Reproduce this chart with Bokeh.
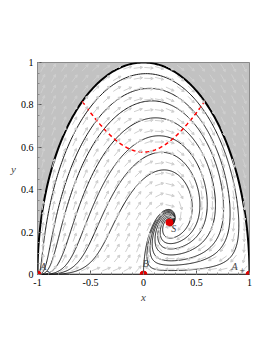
import numpy as np
from bokeh.plotting import figure
from bokeh.models import (ColumnDataSource, Arrow, VeeHead, Label,
                          FixedTicker, Range1d)
from bokeh.embed import file_html
from bokeh.resources import INLINE

# ---- model parameters (exponential potential, dust fluid) ----
lam = 5.0
gam = 1.0

# ---- seed points of drawn trajectories (crossings of y = 0.4) ----
seed_x = [-0.849, -0.755, -0.670, -0.547, -0.406, -0.264, -0.094]
seed_y = [0.4, 0.4, 0.4, 0.4, 0.4, 0.4, 0.4]

# ---- critical points ----
cp_x = [-1.0, 0.0, 1.0, 0.245]
cp_y = [0.0, 0.0, 0.0, 0.245]

# ---- ticks ----
x_ticks = [-1, -0.5, 0, 0.5, 1]
x_tick_labels = ["-1", "-0.5", "0", "0.5", "1"]
y_ticks = [0, 0.2, 0.4, 0.6, 0.8, 1]
y_tick_labels = ["0", "0.2", "0.4", "0.6", "0.8", "1"]

K = np.sqrt(1.5)


def field(x, y):
    s = 2 * x * x + gam * (1 - x * x - y * y)
    dx = -3 * x + lam * K * y * y + 1.5 * x * s
    dy = -lam * K * x * y + 1.5 * y * s
    return dx, dy


def rk4(x0, y0, dt, n):
    x = np.array(x0, float)
    y = np.array(y0, float)
    X = np.empty((n + 1, len(x)))
    Y = np.empty((n + 1, len(x)))
    X[0], Y[0] = x, y
    for i in range(n):
        a1, b1 = field(x, y)
        a2, b2 = field(x + 0.5 * dt * a1, y + 0.5 * dt * b1)
        a3, b3 = field(x + 0.5 * dt * a2, y + 0.5 * dt * b2)
        a4, b4 = field(x + dt * a3, y + dt * b3)
        x = x + dt / 6 * (a1 + 2 * a2 + 2 * a3 + a4)
        y = y + dt / 6 * (b1 + 2 * b2 + 2 * b3 + b4)
        X[i + 1], Y[i + 1] = x, y
    return X, Y


PXX, PXY = 106.0, 212.0  # px per data unit


def thin(xs, ys, step=0.7):
    ox, oy = [xs[0]], [ys[0]]
    for a, b in zip(xs[1:], ys[1:]):
        if np.hypot((a - ox[-1]) * PXX, (b - oy[-1]) * PXY) > step:
            ox.append(a)
            oy.append(b)
    ox.append(xs[-1]); oy.append(ys[-1])
    return ox, oy


Sx, Sy = cp_x[3], cp_y[3]
dt = 0.003
FX, FY = rk4(seed_x, seed_y, dt, 9000)
BX, BY = rk4(seed_x, seed_y, -dt, 2500)

traj_xs, traj_ys = [], []
for j in range(len(seed_x)):
    fx, fy = FX[:, j], FY[:, j]
    d = np.hypot(fx - Sx, fy - Sy)
    idx = np.argmax(d < 0.004) if np.any(d < 0.004) else len(fx)
    fx, fy = fx[:idx], fy[:idx]
    bx, by = BX[:, j], BY[:, j]
    d2 = np.hypot(bx + 1, by)
    ok = (bx * bx + by * by <= 1.0005) & (by >= -1e-4)
    bad = np.where((d2 < 0.003) | ~ok)[0]
    cut = bad[0] if len(bad) else len(bx)
    bx, by = bx[:cut], by[:cut]
    xs = np.concatenate([[-1.0], bx[::-1], fx[1:]])
    ys = np.concatenate([[0.0], by[::-1], fy[1:]])
    xs, ys = thin(xs, ys)
    traj_xs.append(xs)
    traj_ys.append(ys)

# unstable manifold of B
UX, UY = rk4([0.0], [1e-4], dt, 9000)
ux, uy = UX[:, 0], UY[:, 0]
d = np.hypot(ux - Sx, uy - Sy)
idx = np.argmax(d < 0.004)
ux, uy = thin(ux[:idx], uy[:idx])
traj_xs.append(ux)
traj_ys.append(uy)

p = figure(width=265, height=345, output_backend="svg", toolbar_location=None,
           x_range=Range1d(-1, 1), y_range=Range1d(0, 1),
           min_border_left=37, min_border_right=16, min_border_top=62,
           min_border_bottom=71)
p.grid.visible = False
p.outline_line_color = "#777777"
p.outline_line_width = 1
p.background_fill_color = "white"
p.border_fill_color = "white"

# vector field
gx = np.arange(-0.95, 1.0, 0.1)
gy = np.arange(0.025, 1.0, 0.05)
GX, GY = np.meshgrid(gx, gy)
GX, GY = GX.ravel(), GY.ravel()
U, V = field(GX, GY)
up, vp = U * PXX, V * PXY
nrm = np.hypot(up, vp) + 1e-12
L = 9.0
ddx = up / nrm * L / PXX
ddy = vp / nrm * L / PXY
arr_src = ColumnDataSource(dict(x0=GX - ddx / 2, y0=GY - ddy / 2,
                                x1=GX + ddx / 2, y1=GY + ddy / 2))
p.add_layout(Arrow(source=arr_src, x_start="x0", y_start="y0", x_end="x1", y_end="y1",
                   line_color="#cfcfcf", line_width=1,
                   end=VeeHead(size=2.5, line_color="#cfcfcf", line_width=1,
                               fill_color="#cfcfcf")))

# grey outside region
th = np.linspace(np.pi, 0, 200)
cx, cy = np.cos(th), np.sin(th)
p.patch(list(cx) + [1, -1], list(cy) + [1, 1], fill_color="#c2c2c2", line_color=None)

# trajectories
p.multi_line(traj_xs, traj_ys, line_color="#1a1a1a", line_width=1)
p.line([-1, 1], [0, 0], line_color="black", line_width=1.5)
p.line(cx, cy, line_color="black", line_width=2)

# acceleration boundary
ax = np.linspace(-1 / np.sqrt(3), 1 / np.sqrt(3), 100)
p.line(ax, np.sqrt(ax ** 2 + 1 / 3), line_color="red", line_width=1.5, line_dash="4 3")

# critical points
p.scatter(cp_x, cp_y, size=7, color="#e00000")

for txt, xx, yy in [("A", -0.975, 0.012), ("B", -0.01, 0.025), ("S", 0.262, 0.19),
                    ("A", 0.83, 0.012)]:
    p.add_layout(Label(x=xx, y=yy, text=txt, text_font="Liberation Serif",
                       text_font_style="italic", text_font_size="10px"))
p.add_layout(Label(x=-0.92, y=0.004, text="-", text_font="Liberation Serif",
                   text_font_size="10px"))
p.add_layout(Label(x=0.905, y=0.004, text="+", text_font="Liberation Serif",
                   text_font_size="10px"))

# axes
for ax_ in p.xaxis:
    ax_.ticker = FixedTicker(ticks=x_ticks, minor_ticks=list(np.round(np.arange(-1, 1.01, 0.1), 2)))
    ax_.major_label_overrides = {t: l for t, l in zip(x_ticks, x_tick_labels)}
    ax_.axis_label = "x"
for ax_ in p.yaxis:
    ax_.ticker = FixedTicker(ticks=y_ticks, minor_ticks=list(np.round(np.arange(0, 1.01, 0.05), 2)))
    ax_.major_label_overrides = {t: l for t, l in zip(y_ticks, y_tick_labels)}
    ax_.axis_label = "y"
    ax_.axis_label_orientation = "horizontal"

for ax_ in p.xaxis + p.yaxis:
    ax_.axis_line_color = None
    ax_.major_tick_in = 4
    ax_.major_tick_out = 0
    ax_.minor_tick_in = 2
    ax_.minor_tick_out = 0
    ax_.major_tick_line_color = "#555555"
    ax_.minor_tick_line_color = "#888888"
    ax_.major_label_text_font = "Liberation Serif"
    ax_.major_label_text_font_size = "10px"
    ax_.major_label_text_color = "black"
    ax_.major_label_standoff = 4
    ax_.axis_label_text_font = "Liberation Serif"
    ax_.axis_label_text_font_style = "italic"
    ax_.axis_label_text_font_size = "11px"
    ax_.axis_label_standoff = 2

open("out.html", "w").write(file_html(p, INLINE))
